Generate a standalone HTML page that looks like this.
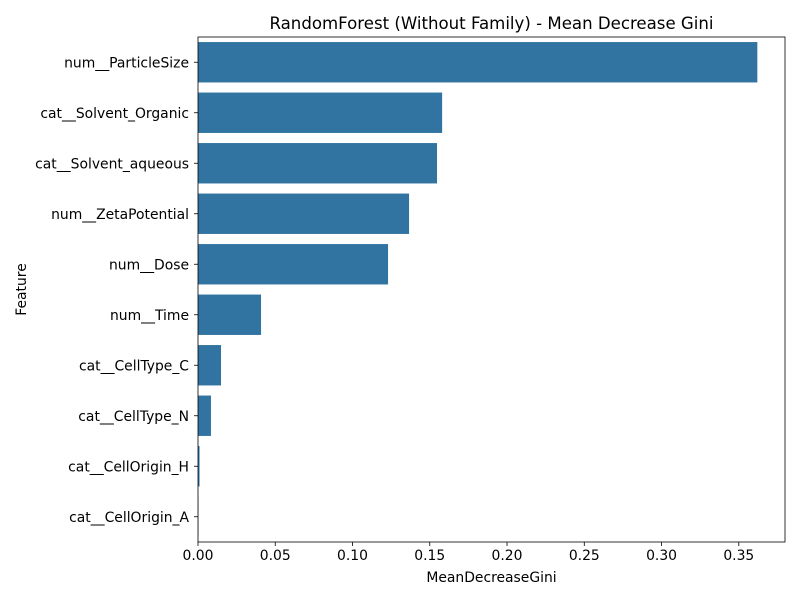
<!DOCTYPE html>
<html><head><meta charset="utf-8"><style>
body{margin:0;background:#fff;}
svg{display:block;font-family:"DejaVu Sans","Liberation Sans",sans-serif;}
</style></head><body>
<svg id="chart" width="800" height="600"></svg>
<script>
const features=["num__ParticleSize","cat__Solvent_Organic","cat__Solvent_aqueous","num__ZetaPotential","num__Dose","num__Time","cat__CellType_C","cat__CellType_N","cat__CellOrigin_H","cat__CellOrigin_A"];
const values=[0.362,0.158,0.1547,0.1366,0.123,0.0408,0.0149,0.0084,0.001,0.0002];
const xTicks=[0,0.05,0.10,0.15,0.20,0.25,0.30,0.35];
const xTickLabels=["0.00","0.05","0.10","0.15","0.20","0.25","0.30","0.35"];
const NS="http://www.w3.org/2000/svg";
const svg=document.getElementById('chart');
const L=198,R=785,T=37,B=542;
const xMax=0.3799;
const x=v=>L+v/xMax*(R-L);
const step=(B-T)/features.length;
const y=i=>T+step*(i+0.5);
function mk(tag,attrs,text){const e=document.createElementNS(NS,tag);for(const k in attrs)e.setAttribute(k,attrs[k]);if(text!==undefined)e.textContent=text;svg.appendChild(e);return e;}
features.forEach((f,i)=>{
  const b=mk('rect',{x:L,y:y(i)-step*0.4,width:Math.max(0,x(values[i])-L),height:step*0.8,fill:'#3274a1'});
  
  
  mk('line',{x1:L-4,x2:L,y1:y(i),y2:y(i),stroke:'#000','stroke-width':0.8});
  const t=mk('text',{x:L-9,y:y(i)+5,'text-anchor':'end','font-size':13.9},f);
  
  
});
xTicks.forEach((v,i)=>{
  mk('line',{x1:x(v),x2:x(v),y1:B,y2:B+4,stroke:'#000','stroke-width':0.8});
  const t=mk('text',{x:x(v),y:B+18,'text-anchor':'middle','font-size':13.9},xTickLabels[i]);
  
  
});
const fr=mk('rect',{x:L,y:T,width:R-L,height:B-T,fill:'none',stroke:'#000','stroke-width':0.8});


const ti=mk('text',{x:(L+R)/2,y:T-8,'text-anchor':'middle','font-size':16.6},'RandomForest (Without Family) - Mean Decrease Gini');


const xl=mk('text',{x:(L+R)/2,y:582,'text-anchor':'middle','font-size':13.9},'MeanDecreaseGini');


const yl=mk('text',{x:26,y:(T+B)/2,'text-anchor':'middle','font-size':13.9,transform:'rotate(-90 26 '+((T+B)/2)+')'},'Feature');


</script>
</body></html>
